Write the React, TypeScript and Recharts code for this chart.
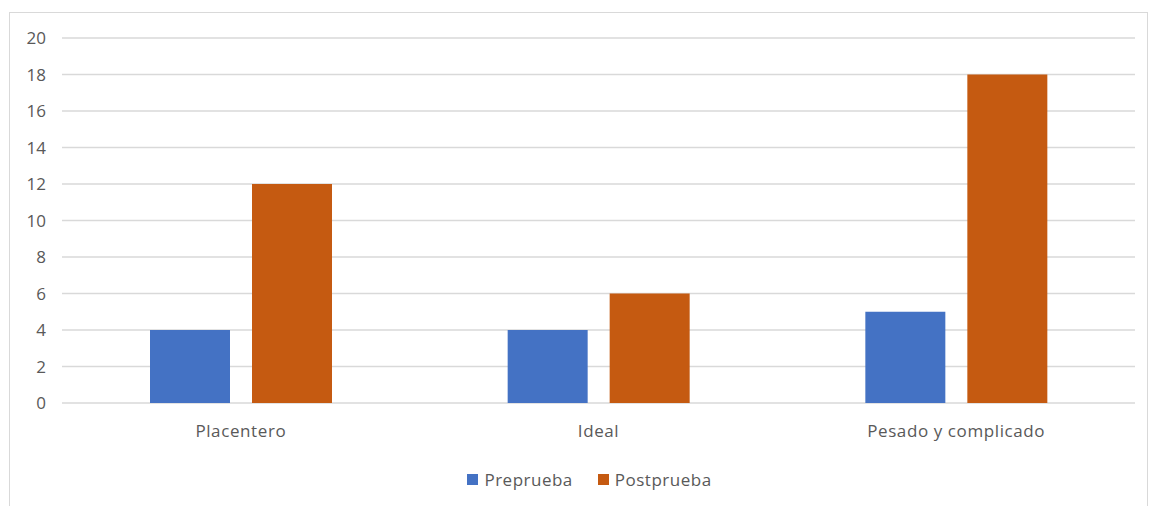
import React from "react";
import { BarChart, Bar, XAxis, YAxis, CartesianGrid, Legend } from "recharts";

const categories = ["Placentero", "Ideal", "Pesado y complicado"];
const seriesNames = ["Preprueba", "Postprueba"];
const preprueba = [4, 4, 5];
const postprueba = [12, 6, 18];
const yTicks = [0, 2, 4, 6, 8, 10, 12, 14, 16, 18, 20];

const data = categories.map((name, i) => ({
  name,
  Preprueba: preprueba[i],
  Postprueba: postprueba[i],
}));

const FONT = "'Open Sans', 'Noto Sans', sans-serif";
const TEXT = "#595959";

const LegendContent = (props: any) => {
  // keep series order instead of the alphabetical one
  const items = [...(props.payload || [])].sort(
    (a: any, b: any) => seriesNames.indexOf(a.value) - seriesNames.indexOf(b.value)
  );
  return (
    <div
      style={{
        display: "flex",
        justifyContent: "center",
        alignItems: "center",
        height: 20,
        paddingLeft: 30,
        fontFamily: FONT,
        fontSize: 17,
        letterSpacing: 0.5,
        color: TEXT,
      }}
    >
      {items.map((it: any, i: number) => (
        <div key={it.value} style={{ display: "flex", alignItems: "center", marginLeft: i ? 25 : 0 }}>
          <span style={{ width: 11, height: 11, background: it.color, marginRight: 6, display: "inline-block" }} />
          <span>{it.value}</span>
        </div>
      ))}
    </div>
  );
};

const App = () => {
  return (
    <div style={{ position: "absolute", left: 0, top: 0, width: 1149, height: 506, background: "#fff", overflow: "hidden" }}>
      <div
        style={{
          position: "absolute",
          left: 9,
          top: 12,
          width: 1137,
          height: 520,
          border: "1px solid #d9d9d9",
        }}
      />
      <div style={{ position: "absolute", left: 0, top: 0 }}>
        <BarChart
          width={1149}
          height={506}
          data={data}
          margin={{ top: 38, right: 14, left: 0, bottom: 33 }}
          barSize={80}
          barGap={22}
        >
          <CartesianGrid vertical={false} stroke="#d9d9d9" strokeWidth={1.3} />
          <XAxis
            dataKey="name"
            axisLine={false}
            tickLine={false}
            height={50}
            tickMargin={16}
            tick={{ fill: TEXT, fontSize: 17, fontFamily: FONT, letterSpacing: 0.6 }}
          />
          <YAxis
            domain={[0, 20]}
            ticks={yTicks}
            interval={0}
            width={62}
            axisLine={false}
            tickLine={false}
            tickMargin={10}
            tick={{ fill: TEXT, fontSize: 17, fontFamily: FONT }}
          />
          <Legend
            verticalAlign="bottom"
            content={LegendContent}
            wrapperStyle={{ left: 0, width: 1149, top: 469, bottom: "auto" }}
          />
          <Bar dataKey="Preprueba" fill="#4472C4" isAnimationActive={false} />
          <Bar dataKey="Postprueba" fill="#C55A11" isAnimationActive={false} />
        </BarChart>
      </div>
    </div>
  );
};

export default App;
